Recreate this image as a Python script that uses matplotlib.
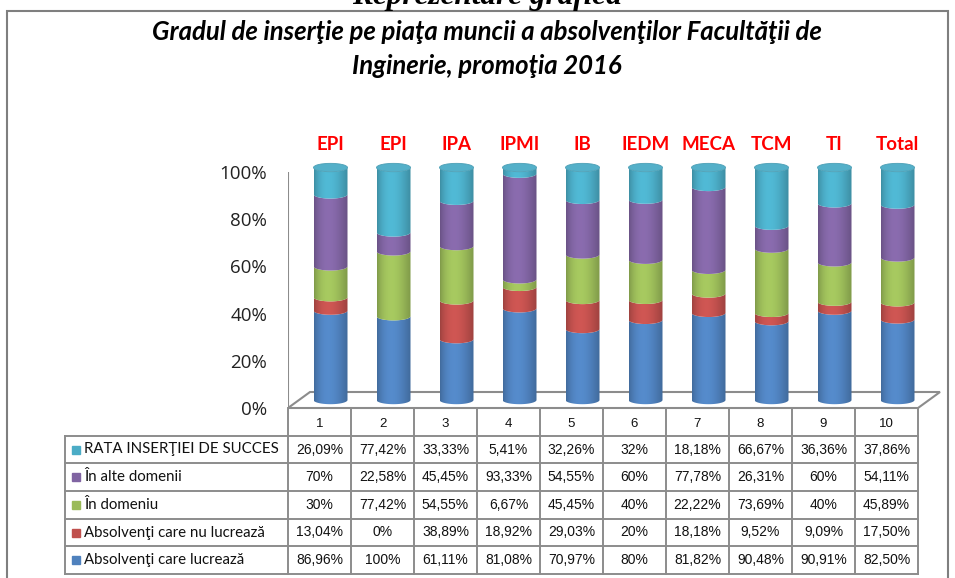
import numpy as np
import matplotlib
matplotlib.use("Agg")
import matplotlib.pyplot as plt
from matplotlib.path import Path
from matplotlib.patches import PathPatch, Ellipse, Rectangle, Polygon
from matplotlib.colors import to_rgb

# ---------------- data ----------------
categories = ["EPI", "EPI", "IPA", "IPMI", "IB", "IEDM", "MECA", "TCM", "TI", "Total"]
col_numbers = ["1", "2", "3", "4", "5", "6", "7", "8", "9", "10"]

lucreaza = [86.96, 100, 61.11, 81.08, 70.97, 80, 81.82, 90.48, 90.91, 82.50]
nu_lucreaza = [13.04, 0, 38.89, 18.92, 29.03, 20, 18.18, 9.52, 9.09, 17.50]
in_domeniu = [30, 77.42, 54.55, 6.67, 45.45, 40, 22.22, 73.69, 40, 45.89]
alte_domenii = [70, 22.58, 45.45, 93.33, 54.55, 60, 77.78, 26.31, 60, 54.11]
rata_succes = [26.09, 77.42, 33.33, 5.41, 32.26, 32, 18.18, 66.67, 36.36, 37.86]

series_names = ["Absolvenţi care lucrează", "Absolvenţi care nu lucrează",
                "În domeniu", "În alte domenii", "RATA INSERŢIEI DE SUCCES"]
series_vals = [lucreaza, nu_lucreaza, in_domeniu, alte_domenii, rata_succes]
series_colors = ["#4F81BD", "#C0504D", "#9BBB59", "#8064A2", "#4BACC6"]

title = "Gradul de inserţie pe piaţa muncii a absolvenţilor Facultăţii de\nInginerie, promoţia 2016"
top_text = "Reprezentare grafică"

# ---------------- layout ----------------
W, H = 955, 578
fig = plt.figure(figsize=(W / 100, H / 100), dpi=100)
fig.patch.set_facecolor("white")

SANS = ["Lato", "DejaVu Sans"]
TAB = ["Liberation Sans", "DejaVu Sans"]
GRID = "#8c8c8c"

px_per_x = 63.0      # pixels per category
px_per_y = 2.36      # pixels per percent
x0_px, y0_px = 288.0, 408.0   # pixel position of (0.5, 0)

xlim = (0.5, 11.0)
ylim = (-2.0, 125.0)
ax_left = x0_px / W
ax_w = (xlim[1] - xlim[0]) * px_per_x / W
ax_bottom = (H - (y0_px - ylim[0] * px_per_y)) / H
ax_h = (ylim[1] - ylim[0]) * px_per_y / H
ax = fig.add_axes([ax_left, ax_bottom, ax_w, ax_h])
ax.set_xlim(*xlim)
ax.set_ylim(*ylim)
for s in ax.spines.values():
    s.set_visible(False)
ax.set_xticks([])
ax.set_yticks([0, 20, 40, 60, 80, 100])
ax.set_yticklabels(["0%", "20%", "40%", "60%", "80%", "100%"],
                   fontsize=13.5, family=["Open Sans", "DejaVu Sans"], color="#222222")
ax.tick_params(axis="y", length=0, pad=15)
ax.patch.set_alpha(0)

# floor (3D depth)
dxu = 22 / px_per_x
dyu = 16 / px_per_y
n = len(categories)
floor = Polygon([(0.5, 0), (n + 0.5, 0), (n + 0.5 + dxu, dyu), (0.5 + dxu, dyu)],
                closed=True, facecolor="white", edgecolor=GRID, lw=1.5, zorder=1)
ax.add_patch(floor)
ax.plot([0.5, 0.5], [0, 100], color=GRID, lw=1.5, zorder=1, solid_capstyle="butt")

# cylinders
rx = 17 / px_per_x
ry = 4.2 / px_per_y
base = dyu / 2
scale = 0.985
NG = 80
tt = np.linspace(0, 1, NG)
shade = 0.82 + 0.26 * np.sin(np.pi * tt ** 0.8)


def grad_img(color, mult):
    c = np.array(to_rgb(color))
    arr = np.clip(c[None, :] * mult[:, None], 0, 1)
    return arr[None, :, :]


def seg_path(xc, ya, yb):
    th1 = np.linspace(np.pi, 2 * np.pi, 40)
    th2 = th1[::-1]
    xs = np.concatenate([xc + rx * np.cos(th1), xc + rx * np.cos(th2)])
    ys = np.concatenate([ya + ry * np.sin(th1), yb + ry * np.sin(th2)])
    verts = np.column_stack([xs, ys])
    verts = np.vstack([verts, verts[:1]])
    codes = [Path.MOVETO] + [Path.LINETO] * (len(verts) - 2) + [Path.CLOSEPOLY]
    return Path(verts, codes)


for i in range(n):
    xc = i + 1 + dxu / 2
    vals = [sv[i] for sv in series_vals]
    tot = sum(vals)
    cum = 0.0
    for k, v in enumerate(vals):
        if v <= 0:
            continue
        ya = base + scale * cum / tot * 100
        cum += v
        yb = base + scale * cum / tot * 100
        p = PathPatch(seg_path(xc, ya, yb), facecolor="none", edgecolor="none",
                      transform=ax.transData, zorder=3)
        ax.add_patch(p)
        im = ax.imshow(grad_img(series_colors[k], shade), extent=[xc - rx, xc + rx, ya - ry - 1, yb + ry + 1],
                       aspect="auto", interpolation="bilinear", zorder=2 + k * 0.01, origin="lower")
        im.set_clip_path(p)
    # top face
    ytop = base + scale * 100
    topc = np.array(to_rgb(series_colors[-1]))
    topc = np.clip(topc * 0.95 + 0.05, 0, 1)
    e = Ellipse((xc, ytop), 2 * rx, 2 * ry, facecolor=topc, edgecolor=np.clip(topc * 0.9, 0, 1),
                lw=0.6, zorder=4)
    ax.add_patch(e)
    ax.text(xc, 111.6, categories[i], ha="center", va="center", color="#FF0000",
            fontsize=13.5, fontweight="bold", family=SANS, zorder=5)

ax.set_xlim(*xlim)
ax.set_ylim(*ylim)

# ---------------- data table ----------------
leg_left_px = 65.0
tab_top_px, tab_bot_px = 408.0, 574.0
tx0 = 0.5 - (x0_px - leg_left_px) / px_per_x
tax = fig.add_axes([leg_left_px / W, (H - tab_bot_px) / H,
                    (x0_px + n * px_per_x - leg_left_px) / W, (tab_bot_px - tab_top_px) / H])
tax.set_xlim(tx0, n + 0.5)
tax.set_ylim(6, 0)
tax.axis("off")

# grid lines
for k in range(n + 1):
    tax.plot([k + 0.5, k + 0.5], [0, 6], color=GRID, lw=1.4, clip_on=False)
tax.plot([tx0, tx0], [1, 6], color=GRID, lw=1.4, clip_on=False)
for r in range(1, 7):
    tax.plot([tx0, n + 0.5], [r, r], color=GRID, lw=1.4, clip_on=False)


def fmt(v):
    if abs(v - round(v)) < 1e-9:
        return "%d%%" % round(v)
    return ("%.2f%%" % v).replace(".", ",")


for i in range(n):
    tax.text(i + 1, 0.58, col_numbers[i], ha="center", va="center", fontsize=9.5,
             family=TAB, color="#111111")

row_order = [4, 3, 2, 1, 0]
for r, k in enumerate(row_order):
    yrow = r + 1.5
    tax.plot([tx0 + 11.5 / px_per_x], [yrow], marker="s", markersize=6.2, color=series_colors[k],
             linestyle="none", clip_on=False)
    tax.text(tx0 + 19 / px_per_x, yrow, series_names[k], ha="left", va="center", fontsize=10.8,
             family=SANS, color="#111111")
    for i in range(n):
        tax.text(i + 1, yrow, fmt(series_vals[k][i]), ha="center", va="center", fontsize=10,
                 family=TAB, color="#111111")

# ---------------- frame & titles ----------------
fig.add_artist(Rectangle((7 / W, -0.1), (948 - 7) / W, (H - 11) / H + 0.1, transform=fig.transFigure,
                         fill=False, edgecolor="#7f7f7f", lw=1.5))
fig.text(487 / W, 1 - 49 / H, title, ha="center", va="center", fontsize=18.5, fontweight="bold",
         fontstyle="italic", family=SANS, linespacing=1.45, color="#000000")
fig.text(487 / W, 1 - 4 / H, top_text, ha="center", va="baseline", fontsize=22.5, fontweight="bold",
         fontstyle="italic", family=["Liberation Serif", "DejaVu Serif"])

fig.savefig("out.png", dpi=100)
